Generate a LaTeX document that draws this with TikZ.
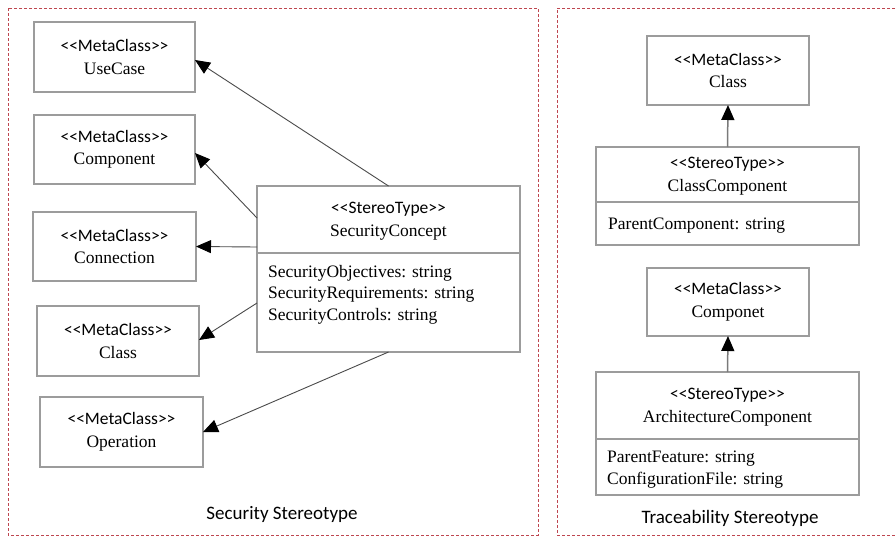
\documentclass[tikz,border=0pt]{standalone}
\usepackage{fontspec}
\setmainfont{Liberation Serif}
\newfontfamily\uisans{Carlito}[Ligatures=TeXOff]
\usetikzlibrary{arrows.meta,calc}

\definecolor{boxgray}{HTML}{9C9C9C}
\definecolor{linegray}{HTML}{4A4A4A}
\definecolor{gengray}{HTML}{7A7A7A}
\definecolor{framered}{RGB}{190,70,80}

\tikzset{
  frame/.style={draw=framered, line width=0.6pt, dash pattern=on 3pt off 2pt},
  umlbox/.style={draw=boxgray, line width=1.2pt, inner sep=0pt, outer sep=0pt,
    align=center, font=\fontsize{17.5}{22.5}\selectfont},
  sepline/.style={draw=boxgray, line width=2.6pt},
  headtext/.style={inner sep=0pt, align=center, font=\fontsize{17.5}{23}\selectfont},
  attrtext/.style={inner sep=0pt, anchor=north west, align=left,
    font=\fontsize{17.5}{21.5}\selectfont},
  caption/.style={inner sep=0pt, anchor=base, font=\uisans\fontsize{19}{23}\selectfont},
  assoc/.style={draw=linegray, line width=0.9pt,
    -{Triangle[length=15pt,width=13pt,color=black]}},
  gen/.style={draw=gengray, line width=1.5pt,
    -{Triangle[length=15pt,width=13pt,color=black]}}
}
\newcommand{\stereo}[1]{{\uisans <{}<#1>{}>}}

\begin{document}
\begin{tikzpicture}[x=1pt,y=-1pt]
  \useasboundingbox (0,0) rectangle (896,536);

  % package frames
  \draw[frame] (8,8) rectangle (538,535);
  \draw[frame] (900,8) -- (557,8) -- (557,535) -- (900,535);

  % ---- Security Stereotype: metaclasses
  \node[umlbox, minimum width=161pt, minimum height=70pt] (uc)   at (114.5,57)  {\stereo{MetaClass}\\UseCase};
  \node[umlbox, minimum width=161pt, minimum height=69pt] (comp) at (114.5,149.5) {\stereo{MetaClass}\\Component};
  \node[umlbox, minimum width=163pt, minimum height=69pt] (conn) at (114.5,246.5) {\stereo{MetaClass}\\Connection};
  \node[umlbox, minimum width=162pt, minimum height=70pt] (cls)  at (118,341)   {\stereo{MetaClass}\\Class};
  \node[umlbox, minimum width=163pt, minimum height=70pt] (oper) at (121.5,432) {\stereo{MetaClass}\\Operation};

  % stereotype SecurityConcept
  \node[umlbox, minimum width=263pt, minimum height=166pt] (sc) at (388.5,269) {};
  \draw[sepline] ($(sc.north west)+(0,67)$) -- ($(sc.north east)+(0,67)$);
  \node[headtext] (scHead) at (388.5,221) {\stereo{StereoType}\\SecurityConcept};
  \node[attrtext] (scAttr) at (268,265)
    {SecurityObjectives: string\\SecurityRequirements: string\\SecurityControls: string};

  % extension connectors
  \draw[assoc] (sc.north) -- ([yshift=-3pt]uc.east);
  \draw[assoc] ([yshift=51pt]sc.west) -- ([yshift=-3.5pt]comp.east);
  \draw[assoc] ([yshift=22pt]sc.west) -- (conn.east);
  \draw[assoc] ([yshift=-34pt]sc.west) -- ([yshift=1pt]cls.east);
  \draw[assoc] (sc.south) -- (oper.east);

  \node[caption] (secCap) at (282,519) {Security Stereotype};

  % ---- Traceability Stereotype
  \node[umlbox, minimum width=162pt, minimum height=69pt] (rcls) at (728,70.5) {\stereo{MetaClass}\\Class};
  \node[umlbox, minimum width=263pt, minimum height=98pt] (ccomp) at (727.5,196) {};
  \draw[sepline] ($(ccomp.north west)+(0,55)$) -- ($(ccomp.north east)+(0,55)$);
  \node[headtext] (ccHead) at (727.5,176) {\stereo{StereoType}\\ClassComponent};
  \node[attrtext] (ccAttr) at (608,218) {ParentComponent: string};

  \node[umlbox, minimum width=162pt, minimum height=68pt] (rcomp) at (728,302) {\stereo{MetaClass}\\Componet};
  \node[umlbox, minimum width=263pt, minimum height=123pt] (arch) at (727.5,433.5) {};
  \draw[sepline] ($(arch.north west)+(0,67)$) -- ($(arch.north east)+(0,67)$);
  \node[headtext] (arHead) at (727.5,407) {\stereo{StereoType}\\ArchitectureComponent};
  \node[attrtext] (arAttr) at (607,451) {ParentFeature: string\\ConfigurationFile: string};

  \draw[gen] (ccomp.north) -- (rcls.south);
  \draw[gen] (arch.north) -- (rcomp.south);

  \node[caption] (trCap) at (730,523) {Traceability Stereotype};
\end{tikzpicture}
\end{document}
